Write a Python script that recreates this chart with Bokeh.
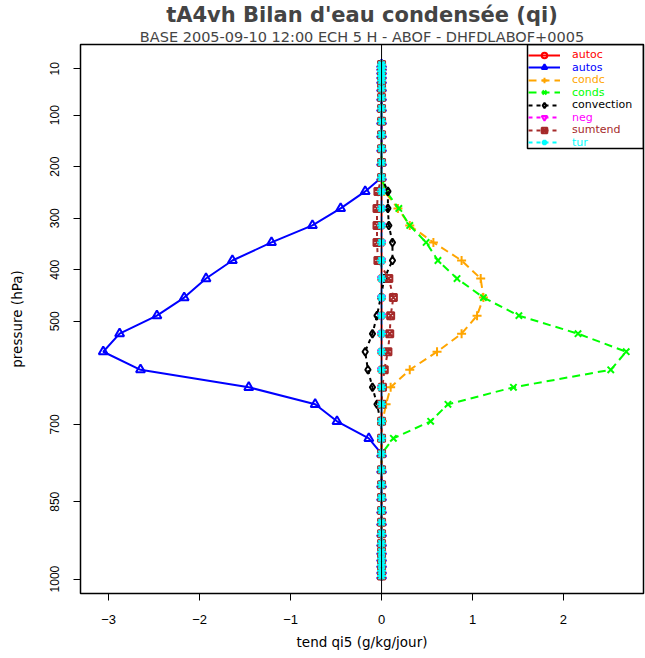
from bokeh.plotting import figure
from bokeh.models import Range1d, FixedTicker, Span, Legend, LegendItem, Title, BoxAnnotation
from bokeh.embed import file_html
from bokeh.resources import INLINE

title_text = "tA4vh Bilan d'eau condensée (qi)"
subtitle_text = "BASE 2005-09-10 12:00 ECH 5 H - ABOF - DHFDLABOF+0005"
x_label = "tend qi5 (g/kg/jour)"
y_label = "pressure (hPa)"

x_ticks = [-3, -2, -1, 0, 1, 2]
y_ticks = [10, 100, 200, 300, 400, 500, 700, 850, 1000]

# model levels (hPa)
levels = [2, 8, 15, 24, 33, 48, 66, 87, 112, 138,
          165, 192, 221, 248, 281, 314, 347, 382, 417, 454,
          489, 524, 559, 594, 628, 661, 694, 727, 757, 788,
          817, 842, 867, 890, 912, 931, 947, 960, 972, 984, 994]

autoc = [0.0, 0.0, 0.0, 0.0, 0.0, 0.0, 0.0, 0.0, 0.0, 0.0,
         0.0, 0.0, 0.0, 0.0, 0.0, 0.0, 0.0, 0.0, 0.0, 0.0,
         0.0, 0.0, 0.0, 0.0, 0.0, 0.0, 0.0, 0.0, 0.0, 0.0,
         0.0, 0.0, 0.0, 0.0, 0.0, 0.0, 0.0, 0.0, 0.0, 0.0, 0.0]

autos = [0.0, 0.0, 0.0, 0.0, 0.0, 0.0, 0.0, 0.0, 0.0, 0.0,
         0.0, 0.0, 0.0, -0.18, -0.45, -0.76, -1.21, -1.64, -1.93, -2.17,
         -2.47, -2.88, -3.06, -2.65, -1.46, -0.73, -0.49, -0.14, 0.0, 0.0,
         0.0, 0.0, 0.0, 0.0, 0.0, 0.0, 0.0, 0.0, 0.0, 0.0, 0.0]

condc = [0.0, 0.0, 0.0, 0.0, 0.0, 0.0, 0.0, 0.0, 0.0, 0.0,
         0.0, 0.0, 0.0, 0.03, 0.18, 0.31, 0.57, 0.88, 1.09, 1.12,
         1.05, 0.88, 0.61, 0.31, 0.10, 0.05, 0.01, 0.0, 0.0, 0.0,
         0.0, 0.0, 0.0, 0.0, 0.0, 0.0, 0.0, 0.0, 0.0, 0.0, 0.0]

conds = [0.0, 0.0, 0.0, 0.0, 0.0, 0.0, 0.0, 0.0, 0.0, 0.0,
         0.0, 0.0, 0.0, 0.05, 0.19, 0.31, 0.49, 0.62, 0.83, 1.12,
         1.51, 2.16, 2.69, 2.52, 1.45, 0.73, 0.54, 0.13, 0.0, 0.0,
         0.0, 0.0, 0.0, 0.0, 0.0, 0.0, 0.0, 0.0, 0.0, 0.0, 0.0]

convection = [0.0, 0.0, 0.0, 0.0, 0.0, 0.0, 0.0, 0.0, 0.0, 0.0,
              0.0, 0.0, 0.0, 0.07, 0.07, 0.08, 0.12, 0.12, 0.03, -0.01,
              -0.05, -0.10, -0.18, -0.15, -0.10, -0.05, -0.01, 0.0, 0.0, 0.0,
              0.0, 0.0, 0.0, 0.0, 0.0, 0.0, 0.0, 0.0, 0.0, 0.0, 0.0]

neg = [0.0, 0.0, 0.0, 0.0, 0.0, 0.0, 0.0, 0.0, 0.0, 0.0,
       0.0, 0.0, 0.0, 0.0, 0.0, 0.0, 0.0, 0.0, 0.0, 0.0,
       0.0, 0.0, 0.0, 0.0, 0.0, 0.0, 0.0, 0.0, 0.0, 0.0,
       0.0, 0.0, 0.0, 0.0, 0.0, 0.0, 0.0, 0.0, 0.0, 0.0, 0.0]

sumtend = [0.0, 0.0, 0.0, 0.0, 0.0, 0.0, 0.0, 0.0, 0.0, 0.0,
           0.0, 0.0, 0.0, -0.04, -0.05, -0.05, -0.05, -0.04, 0.08, 0.13,
           0.10, 0.09, 0.07, 0.03, 0.01, 0.0, 0.0, 0.0, 0.0, 0.0,
           0.0, 0.0, 0.0, 0.0, 0.0, 0.0, 0.0, 0.0, 0.0, 0.0, 0.0]

tur = [0.0, 0.0, 0.0, 0.0, 0.0, 0.0, 0.0, 0.0, 0.0, 0.0,
       0.0, 0.0, 0.0, 0.0, 0.0, 0.0, 0.0, 0.0, 0.0, 0.0,
       0.0, 0.0, 0.0, 0.0, 0.0, 0.0, 0.0, 0.0, 0.0, 0.0,
       0.0, 0.0, 0.0, 0.0, 0.0, 0.0, 0.0, 0.0, 0.0, 0.0, 0.0]

series_names = ["autoc", "autos", "condc", "conds", "convection", "neg", "sumtend", "tur"]
series_values = [autoc, autos, condc, conds, convection, neg, sumtend, tur]
series_colors = ["#FF0000", "#0000FF", "#FFA500", "#00FF00", "#000000", "#FF00FF", "#A52A2A", "#00FFFF"]
series_markers = ["circle", "triangle", "cross", "x", "diamond", "inverted_triangle", "square_x", "asterisk"]
series_sizes = [7, 9, 9, 9, 8, 7, 7, 9]
series_dash = ["solid", "solid", "8 5", "8 5", "4 4", "4 4", "4 4", "4 4"]

p = figure(width=645, height=658, output_backend="svg", toolbar_location=None,
           x_range=Range1d(-3.31, 2.88), y_range=Range1d(1028, -37),
           min_border_left=80, min_border_right=2, min_border_top=36, min_border_bottom=65,
           title=None, background_fill_color="white", border_fill_color="white")

p.outline_line_color = "black"
p.outline_line_width = 1.5
p.outline_line_alpha = 1
p.xgrid.visible = False
p.ygrid.visible = False

for ax in (p.xaxis[0], p.yaxis[0]):
    ax.axis_line_color = None
    ax.minor_tick_line_color = None
    ax.major_tick_line_color = "black"
    ax.major_tick_out = 7
    ax.major_tick_in = 0
    ax.major_label_text_color = "black"
    ax.axis_label_text_color = "black"
    ax.axis_label_text_font_style = "normal"
    ax.axis_label_text_font = "DejaVu Sans"
    ax.axis_label_text_font_size = "13.5px"

p.xaxis.ticker = FixedTicker(ticks=x_ticks)
p.yaxis.ticker = FixedTicker(ticks=y_ticks)
p.xaxis.axis_label = x_label
p.yaxis.axis_label = y_label
p.xaxis.major_label_text_font = "Liberation Sans"
p.xaxis.major_label_text_font_size = "13px"
p.yaxis.major_label_text_font = "Liberation Sans"
p.yaxis.major_label_text_font_size = "12px"
p.yaxis.major_label_orientation = "vertical"
p.xaxis.major_label_standoff = 14
p.yaxis.major_label_standoff = 14
p.xaxis.axis_label_standoff = 7
p.yaxis.axis_label_standoff = 23

renderers = []
for name, vals, col, mk, sz, dash in zip(series_names, series_values, series_colors,
                                         series_markers, series_sizes, series_dash):
    lr = p.line(x=vals, y=levels, line_color=col, line_width=2, line_dash=dash)
    sr = p.scatter(x=vals, y=levels, marker=mk, size=sz, line_color=col, fill_color=None, line_width=2)
    renderers.append((name, col, lr, sr))

p.add_layout(Span(location=0, dimension="height", line_color="black", line_width=1))

# legend box and colored entries
frame_h = 549
row_step = 12.5
first_row = 10.5
p.add_layout(BoxAnnotation(left=447, right=563, top=frame_h, bottom=frame_h - 104,
                           left_units="screen", right_units="screen",
                           top_units="screen", bottom_units="screen",
                           fill_alpha=0, line_color="black", line_width=1.5, line_alpha=1))

row_h = 14
for i, (name, col, lr, sr) in enumerate(renderers):
    center = first_row + row_step * i
    leg = Legend(items=[LegendItem(label=name, renderers=[lr, sr])],
                 location=(448, frame_h - center - row_h / 2),
                 label_text_color=col, label_text_font="DejaVu Sans", label_text_font_size="11px",
                 border_line_color=None, background_fill_alpha=0,
                 padding=0, margin=0, spacing=0, glyph_width=32, glyph_height=row_h,
                 label_height=row_h, label_standoff=12)
    p.add_layout(leg)

p.add_layout(Title(text=subtitle_text, align="center", text_font="DejaVu Sans",
                   text_font_size="14.5px", text_font_style="normal", standoff=0), "above")
p.add_layout(Title(text=title_text, align="center", text_font="DejaVu Sans",
                   text_font_size="21px", text_font_style="bold", standoff=0), "above")

open("out.html", "w").write(file_html(p, INLINE))
